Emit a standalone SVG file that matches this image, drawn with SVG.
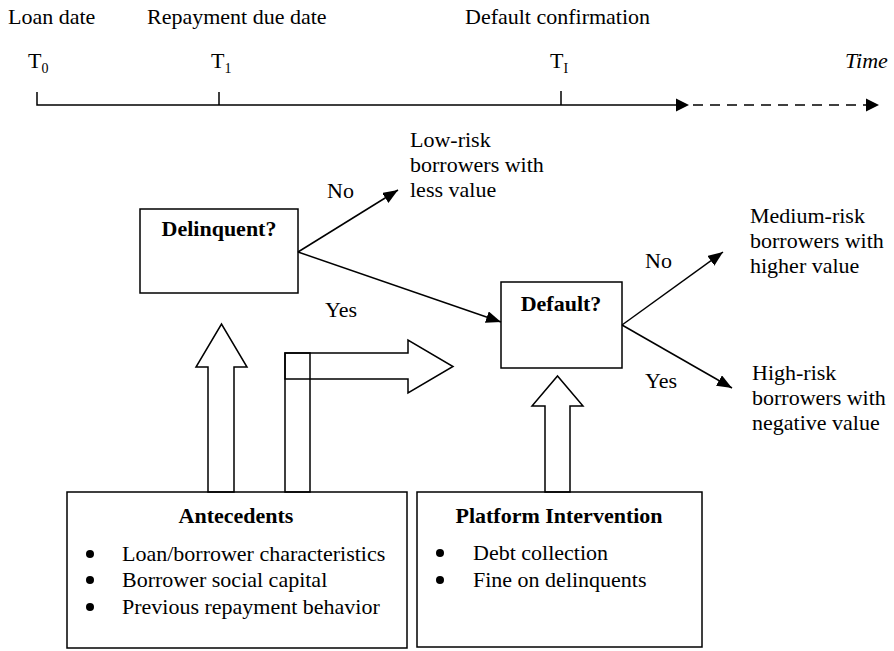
<svg xmlns="http://www.w3.org/2000/svg" width="894" height="651" viewBox="0 0 894 651">
<style>
text{font-family:"Liberation Serif","Times New Roman",serif;font-size:22px;fill:#000}
.b{font-weight:bold}
.i{font-style:italic}
.sub{font-size:14px}
.box{fill:#fff;stroke:#000;stroke-width:1.5}
.hollow{fill:none;stroke:#000;stroke-width:1.5}
.ln{fill:none;stroke:#000;stroke-width:1.5}
.arr{fill:none;stroke:#000;stroke-width:1.5;marker-end:url(#ah)}
</style>
<defs>
<marker id="ah" markerUnits="userSpaceOnUse" markerWidth="16" markerHeight="12" refX="15" refY="6" orient="auto">
<path d="M0,0 L15,6 L0,12 z" fill="#000"/>
</marker>
</defs>
<rect width="894" height="651" fill="#fff"/>

<g id="timeline">
<text x="8" y="24">Loan date</text>
<text x="147" y="24">Repayment due date</text>
<text x="465" y="24">Default confirmation</text>
<text x="28" y="68">T<tspan class="sub" dy="5">0</tspan></text>
<text x="211" y="68">T<tspan class="sub" dy="5">1</tspan></text>
<text x="550" y="68">T<tspan class="sub" dy="5">I</tspan></text>
<text x="845" y="68" class="i">Time</text>
<path class="ln" d="M37,92 V105 H677 M219,92 V105 M561,91 V105"/>
<path d="M676,98.5 L689,105 L676,111.5 z" fill="#000"/>
<path class="ln" d="M693,105 H866" stroke-dasharray="10,7"/>
<path d="M866,98.5 L879,105 L866,111.5 z" fill="#000"/>
</g>

<g id="delinquent">
<rect class="box" x="140" y="209" width="158" height="84"/>
<text class="b" x="219" y="236" text-anchor="middle">Delinquent?</text>
</g>

<g id="default">
<rect class="box" x="501" y="282" width="121" height="86"/>
<text class="b" x="561" y="311" text-anchor="middle">Default?</text>
</g>

<g id="low-risk">
<text x="410" y="147">Low-risk</text>
<text x="410" y="172">borrowers with</text>
<text x="410" y="197">less value</text>
</g>

<g id="medium-risk">
<text x="750" y="223">Medium-risk</text>
<text x="750" y="248">borrowers with</text>
<text x="750" y="273">higher value</text>
</g>

<g id="high-risk">
<text x="752" y="380">High-risk</text>
<text x="752" y="405">borrowers with</text>
<text x="752" y="430">negative value</text>
</g>

<g id="antecedents">
<rect class="box" x="67" y="492" width="340" height="156"/>
<text class="b" x="236" y="523" text-anchor="middle">Antecedents</text>
<circle cx="90" cy="554" r="4"/>
<circle cx="90" cy="580" r="4"/>
<circle cx="90" cy="607" r="4"/>
<text x="122" y="561">Loan/borrower characteristics</text>
<text x="122" y="587">Borrower social capital</text>
<text x="122" y="614">Previous repayment behavior</text>
</g>

<g id="platform-intervention">
<rect class="box" x="417" y="492" width="285" height="155"/>
<text class="b" x="559" y="523" text-anchor="middle">Platform Intervention</text>
<circle cx="440" cy="553" r="4"/>
<circle cx="440" cy="580" r="4"/>
<text x="473" y="560">Debt collection</text>
<text x="473" y="587">Fine on delinquents</text>
</g>

<g id="connectors">
<line class="arr" x1="298" y1="252" x2="398" y2="190"/>
<line class="arr" x1="298" y1="252" x2="501" y2="322"/>
<line class="arr" x1="622" y1="325" x2="723" y2="252"/>
<line class="arr" x1="622" y1="325" x2="732" y2="388"/>
<text x="327" y="198">No</text>
<text x="325" y="317">Yes</text>
<text x="645" y="268">No</text>
<text x="645" y="388">Yes</text>
<polygon class="hollow" points="208,492 208,367 196,367 221.5,324 247,367 234,367 234,492"/>
<rect class="hollow" x="285" y="353" width="25" height="139"/>
<polygon class="hollow" points="285,353 408,353 408,340 453,366.5 408,393 408,379 285,379"/>
<polygon class="hollow" points="545,492 545,406 532,406 557.5,376 583,406 570,406 570,492"/>
</g>
</svg>
